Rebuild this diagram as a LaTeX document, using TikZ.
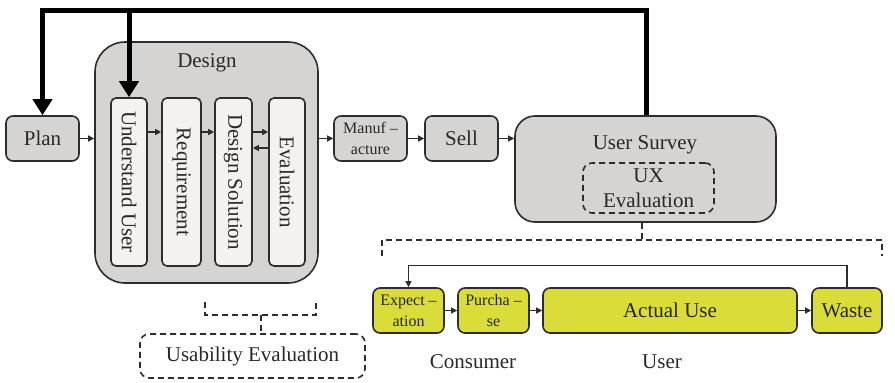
\documentclass[tikz,border=0pt]{standalone}
\usepackage{fontspec}
\setmainfont{Liberation Serif}
\usetikzlibrary{arrows.meta}
\definecolor{boxline}{RGB}{45,45,45}
\definecolor{boxfill}{RGB}{214,212,210}
\definecolor{colfill}{RGB}{244,242,240}
\definecolor{yfill}{RGB}{218,220,58}
\definecolor{txt}{RGB}{40,40,40}
\begin{document}
\begin{tikzpicture}[x=1pt,y=-1pt,
  every node/.style={text=txt,font=\fontsize{21}{25}\selectfont},
  box/.style={draw=boxline,line width=1.6pt,fill=boxfill,rounded corners=7pt,
    inner sep=0pt,minimum height=45pt,align=center},
  ybox/.style={box,fill=yfill},
  col/.style={draw=boxline,line width=1.6pt,fill=colfill,rounded corners=5pt,
    minimum width=36pt,minimum height=168pt,inner sep=0pt},
  small/.style={font=\fontsize{16}{21}\selectfont},
  flow/.style={-{Triangle[length=6pt,width=6pt]},line width=1.3pt,draw=boxline},
  loopback/.style={-{Triangle[length=16pt,width=19pt]},line width=5pt,draw=black},
  dashline/.style={draw=boxline,line width=1.6pt,dash pattern=on 6pt off 4pt},
  dashbox/.style={dashline,rounded corners=9pt,inner sep=0pt,align=center}]
\useasboundingbox (0,0) rectangle (895,383);

% main process chain
\node[box,minimum width=73pt] (plan) at (42.5,138.5) {Plan};
\node[draw=boxline,line width=1.6pt,fill=boxfill,rounded corners=30pt,
  minimum width=223pt,minimum height=241pt] (design) at (206.5,162.5) {};
\node (designlbl) at (207,63) {Design};

\node[col] (under) at (129,182) {};
\node[rotate=-90] (underlbl) at (under) {Understand User};
\node[col,minimum width=39pt] (req) at (181.5,182) {};
\node[rotate=-90] (reqlbl) at (req) {Requirement};
\node[col,minimum width=37pt] (sol) at (233.5,182) {};
\node[rotate=-90] (sollbl) at (sol) {Design Solution};
\node[col] (eval) at (287,182) {};
\node[rotate=-90] (evallbl) at (eval) {Evaluation};

\node[box,minimum width=73pt,small] (manu) at (370.5,138.5) {Manuf –\\acture};
\node[box,minimum width=73pt] (sell) at (461.5,138.5) {Sell};
\node[box,rounded corners=20pt,minimum width=261pt,minimum height=106pt] (survey) at (645.5,169) {};
\node (surveylbl) at (645,145) {User Survey};
\node[dashbox,minimum width=131pt,minimum height=50pt] (ux) at (648.5,188) {UX\\Evaluation};

% forward arrows
\draw[flow] (plan.east) -- (plan.east -| design.west);
\draw[flow] (under.east |- 0,132) -- (req.west |- 0,132);
\draw[flow] (req.east |- 0,132) -- (sol.west |- 0,132);
\draw[flow] (sol.east |- 0,132) -- (eval.west |- 0,132);
\draw[flow] (eval.west |- 0,148) -- (sol.east |- 0,148);
\draw[flow] (design.east |- manu.west) -- (manu.west);
\draw[flow] (manu.east) -- (sell.west);
\draw[flow] (sell.east) -- (sell.east -| survey.west);

% feedback from the survey
\coordinate (top) at (646,10);
\draw[loopback] (survey.north -| top) -- (top) -| (plan.north);
\draw[loopback] (under.north |- top) -- (under.north);

% usability evaluation bracket
\node[dashbox,minimum width=225pt,minimum height=44pt] (usab) at (252.5,356) {Usability Evaluation};
\draw[dashline] (205,302) -- (205,315) -- (316,315) -- (316,302);
\draw[dashline] (261,315) -- (261,334);

% UX evaluation bracket
\coordinate (uxtick) at (642,240);
\draw[dashline] (382,256) -- (382,240) -- (882,240) -- (882,256);
\draw[dashline] (survey.south -| uxtick) -- (uxtick);

% product life cycle
\node[ybox,minimum width=71pt,small] (expect) at (408.5,310.5) {Expect –\\ation};
\node[ybox,minimum width=71pt,small] (purch) at (493.5,310.5) {Purcha –\\se};
\node[ybox,minimum width=254pt] (use) at (670,310.5) {Actual Use};
\node[ybox,minimum width=70pt] (waste) at (847,310.5) {Waste};
\draw[flow] (expect.east) -- (purch.west);
\draw[flow] (purch.east) -- (use.west);
\draw[flow] (use.east) -- (waste.west);
\draw[flow] (waste.north) -- ++(0,-22) -| (expect.north);

\node (consumer) at (473,362) {Consumer};
\node (userlbl) at (662,362) {User};
\end{tikzpicture}
\end{document}
